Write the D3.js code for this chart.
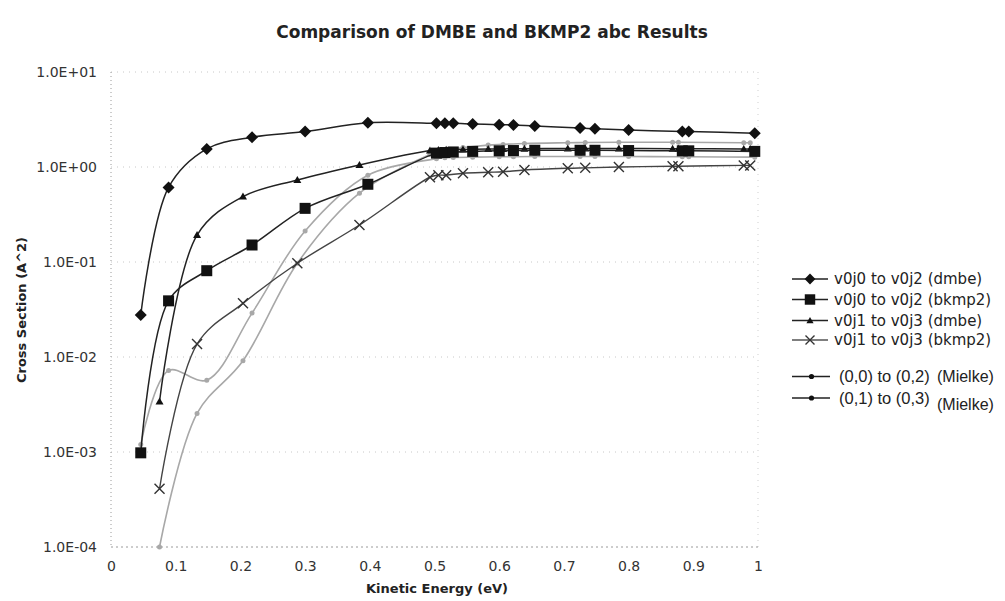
<!DOCTYPE html>
<html>
<head>
<meta charset="utf-8">
<script src="https://cdn.jsdelivr.net/npm/d3@7"></script>
<style>
  html, body { margin: 0; padding: 0; background: #fff; }
  svg { display: block; }
</style>
</head>
<body>
<svg id="chart" width="1005" height="601"></svg>
<script>
// Collision energies (eV) of the two sampling grids
const energyJ0 = [0.046, 0.089, 0.148, 0.218, 0.300, 0.397, 0.503, 0.516, 0.529, 0.559, 0.600, 0.622, 0.655, 0.725, 0.748, 0.800, 0.883, 0.893, 0.995];
const energyJ1 = [0.075, 0.133, 0.204, 0.288, 0.384, 0.493, 0.506, 0.518, 0.544, 0.583, 0.606, 0.639, 0.706, 0.733, 0.785, 0.868, 0.877, 0.978, 0.988];

// Cross sections (A^2)
const dmbeJ0   = [0.0277, 0.61, 1.55, 2.06, 2.36, 2.92, 2.88, 2.88, 2.88, 2.84, 2.79, 2.77, 2.70, 2.57, 2.53, 2.45, 2.37, 2.37, 2.26];
const bkmp2J0  = [0.00098, 0.039, 0.081, 0.151, 0.367, 0.658, 1.40, 1.42, 1.44, 1.46, 1.48, 1.49, 1.50, 1.50, 1.50, 1.49, 1.48, 1.48, 1.46];
const dmbeJ1   = [0.0034, 0.192, 0.488, 0.73, 1.05, 1.49, 1.51, 1.52, 1.53, 1.55, 1.55, 1.56, 1.57, 1.57, 1.57, 1.56, 1.56, 1.55, 1.55];
const bkmp2J1  = [0.00041, 0.0137, 0.0367, 0.097, 0.245, 0.78, 0.82, 0.82, 0.86, 0.88, 0.89, 0.93, 0.97, 0.98, 1.00, 1.02, 1.02, 1.04, 1.04];
const mielkeJ0 = [0.0012, 0.0072, 0.0057, 0.029, 0.212, 0.82, 1.22, 1.25, 1.26, 1.27, 1.28, 1.28, 1.29, 1.29, 1.29, 1.29, 1.28, 1.28, 1.27];
const mielkeJ1 = [0.0001, 0.00255, 0.00914, 0.097, 0.53, 1.35, 1.45, 1.50, 1.60, 1.70, 1.73, 1.77, 1.80, 1.81, 1.82, 1.82, 1.82, 1.80, 1.80];

// Axis ticks
const xTicks = [0, 0.1, 0.2, 0.3, 0.4, 0.5, 0.6, 0.7, 0.8, 0.9, 1];
const xTickLabels = ["0", "0.1", "0.2", "0.3", "0.4", "0.5", "0.6", "0.7", "0.8", "0.9", "1"];
const yTicks = [1e1, 1e0, 1e-1, 1e-2, 1e-3, 1e-4];
const yTickLabels = ["1.0E+01", "1.0E+00", "1.0E-01", "1.0E-02", "1.0E-03", "1.0E-04"];

const svg = d3.select("#chart");
const x = d3.scaleLinear().domain([0, 1]).range([111, 758]);
const y = d3.scaleLog().domain([1e-4, 10]).range([547, 72]);

// faint dotted grid
svg.append("g").selectAll("line").data(yTicks.slice(0, -1)).join("line")
  .attr("x1", x(0)).attr("x2", x(1))
  .attr("y1", d => y(d)).attr("y2", d => y(d))
  .attr("stroke", "#c8c8c8").attr("stroke-width", 1).attr("stroke-dasharray", "1,5");
svg.append("line").attr("x1", x(1)).attr("x2", x(1)).attr("y1", y(10)).attr("y2", y(1e-4))
  .attr("stroke", "#cfcfcf").attr("stroke-dasharray", "1,5");
// axes lines (dotted)
svg.append("line").attr("x1", x(0)).attr("x2", x(0)).attr("y1", y(10)).attr("y2", y(1e-4))
  .attr("stroke", "#9a9a9a").attr("stroke-dasharray", "1,3");
svg.append("line").attr("x1", x(0)).attr("x2", x(1)).attr("y1", y(1e-4)).attr("y2", y(1e-4))
  .attr("stroke", "#9a9a9a").attr("stroke-dasharray", "2,3");

// axes labels via d3 axes
const xAxis = d3.axisBottom(x).tickValues(xTicks).tickSize(0).tickPadding(14)
  .tickFormat((d, i) => xTickLabels[i]);
const gx = svg.append("g").attr("transform", `translate(0,${y(1e-4)})`).call(xAxis);
gx.select(".domain").remove();
gx.selectAll("text").attr("font-family", "DejaVu Sans").attr("font-size", 14).attr("fill", "#333");

const yAxis = d3.axisLeft(y).tickValues(yTicks).tickSize(0).tickPadding(14)
  .tickFormat((d, i) => yTickLabels[i]);
const gy = svg.append("g").attr("transform", `translate(${x(0)},0)`).call(yAxis);
gy.select(".domain").remove();
gy.selectAll("text").attr("font-family", "DejaVu Sans").attr("font-size", 14).attr("fill", "#333");

// titles
svg.append("text").attr("x", 492).attr("y", 38).attr("text-anchor", "middle")
  .attr("font-family", "DejaVu Sans").attr("font-weight", "bold").attr("font-size", 17).attr("fill", "#222")
  .text("Comparison of DMBE and BKMP2 abc Results");
svg.append("text").attr("x", 437).attr("y", 593).attr("text-anchor", "middle")
  .attr("font-family", "DejaVu Sans").attr("font-weight", "bold").attr("font-size", 13).attr("fill", "#222")
  .text("Kinetic Energy (eV)");
svg.append("text").attr("transform", "translate(26,310) rotate(-90)").attr("text-anchor", "middle")
  .attr("font-family", "DejaVu Sans").attr("font-weight", "bold").attr("font-size", 13).attr("fill", "#222")
  .text("Cross Section (A^2)");

// series
const series = [
  { name: "mielkeJ0", xs: energyJ0, ys: mielkeJ0, color: "#a8a8a8", width: 1.6, marker: "dot" },
  { name: "mielkeJ1", xs: energyJ1, ys: mielkeJ1, color: "#a8a8a8", width: 1.6, marker: "dot" },
  { name: "bkmp2J1", xs: energyJ1, ys: bkmp2J1, color: "#444", width: 1.4, marker: "cross" },
  { name: "dmbeJ1", xs: energyJ1, ys: dmbeJ1, color: "#222", width: 1.5, marker: "triangle" },
  { name: "bkmp2J0", xs: energyJ0, ys: bkmp2J0, color: "#222", width: 1.5, marker: "square" },
  { name: "dmbeJ0", xs: energyJ0, ys: dmbeJ0, color: "#222", width: 1.5, marker: "diamond" }
];

const line = d3.line().x(d => x(d[0])).y(d => y(d[1])).curve(d3.curveCatmullRom.alpha(0.5));

function drawMarker(g, kind, cx, cy, color, scale) {
  const s = scale || 1;
  if (kind === "diamond") {
    g.append("path").attr("d", `M${cx},${cy - 6 * s}L${cx + 6 * s},${cy}L${cx},${cy + 6 * s}L${cx - 6 * s},${cy}Z`).attr("fill", "#111");
  } else if (kind === "square") {
    g.append("rect").attr("x", cx - 5.5 * s).attr("y", cy - 5.5 * s).attr("width", 11 * s).attr("height", 11 * s).attr("fill", "#111");
  } else if (kind === "triangle") {
    g.append("path").attr("d", `M${cx},${cy - 4 * s}L${cx + 4 * s},${cy + 3 * s}L${cx - 4 * s},${cy + 3 * s}Z`).attr("fill", "#111");
  } else if (kind === "cross") {
    g.append("path").attr("d", `M${cx - 5 * s},${cy - 5 * s}L${cx + 5 * s},${cy + 5 * s}M${cx + 5 * s},${cy - 5 * s}L${cx - 5 * s},${cy + 5 * s}`)
      .attr("stroke", "#333").attr("stroke-width", 1.4).attr("fill", "none");
  } else if (kind === "dot") {
    g.append("circle").attr("cx", cx).attr("cy", cy).attr("r", 2.5 * s).attr("fill", color);
  }
}

const plot = svg.append("g");
series.forEach(s => {
  const pts = s.xs.map((e, i) => [e, s.ys[i]]);
  const g = plot.append("g").attr("class", s.name);
  g.append("path").attr("d", line(pts)).attr("fill", "none").attr("stroke", s.color).attr("stroke-width", s.width);
  pts.forEach(p => drawMarker(g, s.marker, x(p[0]), y(p[1]), s.color));
});

// legend
const legendRows = [
  { label: "v0j0 to v0j2 (dmbe)", marker: "diamond", y: 279, color: "#222" },
  { label: "v0j0 to v0j2 (bkmp2)", marker: "square", y: 299.5, color: "#222" },
  { label: "v0j1 to v0j3 (dmbe)", marker: "triangle", y: 320.5, color: "#222" },
  { label: "v0j1 to v0j3 (bkmp2)", marker: "cross", y: 340, color: "#555" }
];
const lg = svg.append("g");
legendRows.forEach(r => {
  lg.append("line").attr("x1", 792).attr("x2", 828).attr("y1", r.y).attr("y2", r.y)
    .attr("stroke", r.color).attr("stroke-width", 1.5);
  drawMarker(lg, r.marker, 810, r.y, r.color, r.marker === "square" ? 0.95 : 0.9);
  lg.append("text").attr("x", 834).attr("y", r.y).attr("dy", "0.35em")
    .attr("font-family", "DejaVu Sans").attr("font-size", 15).attr("fill", "#222").text(r.label);
});
const mielkeRows = [
  { label: "(0,0) to (0,2)", y: 376.5, noteY: 376 },
  { label: "(0,1) to (0,3)", y: 398, noteY: 404 }
];
mielkeRows.forEach(r => {
  lg.append("line").attr("x1", 792).attr("x2", 830).attr("y1", r.y).attr("y2", r.y)
    .attr("stroke", "#222").attr("stroke-width", 1.5);
  lg.append("circle").attr("cx", 811.5).attr("cy", r.y).attr("r", 2.6).attr("fill", "#111");
  lg.append("text").attr("x", 839).attr("y", r.y).attr("dy", "0.35em")
    .attr("font-family", "Liberation Sans").attr("font-size", 16.5).attr("fill", "#222").text(r.label);
  lg.append("text").attr("x", 937).attr("y", r.noteY).attr("dy", "0.35em")
    .attr("font-family", "Liberation Sans").attr("font-size", 16).attr("fill", "#222").text("(Mielke)");
});
</script>
</body>
</html>
